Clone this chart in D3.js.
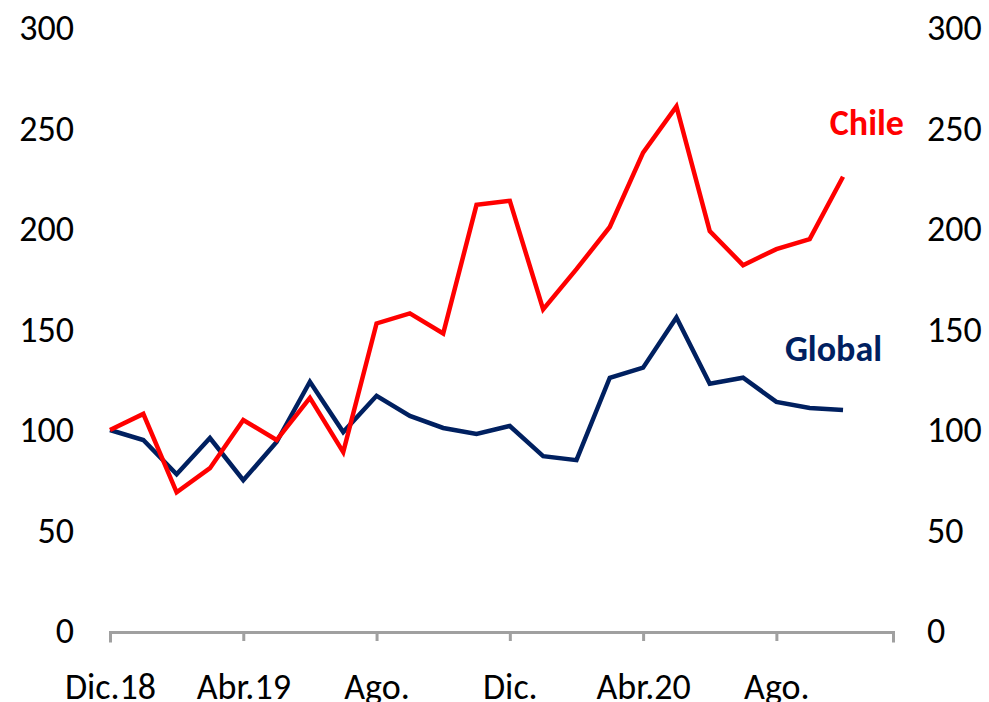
<!DOCTYPE html>
<html lang="es">
<head>
    <meta charset="UTF-8">
    <title>Chile vs Global</title>
    <script src="https://d3js.org/d3.v7.min.js"></script>
    <style>
        body { margin: 0; background: #fff; }
        svg text { font-family: Carlito, Lato, "Open Sans", sans-serif; }
    </style>
</head>
<body>
    <svg id="chart" width="989" height="702"></svg>
<script>
// Monthly index, Dic.18 = 100
const months = d3.range(23); // Dic.18 .. Oct.20
const chile = [100, 108, 69, 81, 105, 95, 116, 89, 153, 158, 148, 212, 214, 160,
    180, 201, 238, 261, 199, 182, 190, 195, 226];
const global = [100, 95, 78, 96, 75, 94, 124, 99, 117, 107, 101, 98, 102, 87,
    85, 126, 131, 156, 123, 126, 114, 111, 110];
const xTickValues = [0, 4, 8, 12, 16, 20];
const xTickLabels = ['Dic.18', 'Abr.19', 'Ago.', 'Dic.', 'Abr.20', 'Ago.'];
const yTicks = [0, 50, 100, 150, 200, 250, 300];

const svg = d3.select('#chart');

const x = d3.scaleLinear().domain([0, 23.5]).range([110, 893]);
const y = d3.scaleLinear().domain([0, 300]).range([631, 28]);

// x axis
const xAxis = svg.append('g')
    .attr('transform', 'translate(0,632)')
    .call(d3.axisBottom(x)
        .tickValues(xTickValues)
        .tickFormat((d, i) => xTickLabels[i])
        .tickSizeOuter(0)
        .tickSize(9));
xAxis.select('.domain')
    .attr('stroke', '#a0a0a0')
    .attr('stroke-width', 3)
    .attr('stroke-linecap', 'square');
xAxis.selectAll('.tick line')
    .attr('stroke', '#a0a0a0')
    .attr('stroke-width', 3);
xAxis.selectAll('.tick text')
    .attr('y', 67)
    .attr('dy', 0)
    .attr('fill', '#000')
    .style('font-size', '36px');

// left y axis
const yLeft = svg.append('g')
    .attr('transform', 'translate(74,0)')
    .call(d3.axisLeft(y).tickValues(yTicks).tickSize(0).tickPadding(0));
yLeft.select('.domain').remove();
yLeft.selectAll('.tick text')
    .attr('dy', '0.32em')
    .attr('fill', '#000')
    .style('font-size', '36px');

// right y axis
const yRight = svg.append('g')
    .attr('transform', 'translate(927,0)')
    .call(d3.axisRight(y).tickValues(yTicks).tickSize(0).tickPadding(0));
yRight.select('.domain').remove();
yRight.selectAll('.tick text')
    .attr('dy', '0.32em')
    .attr('fill', '#000')
    .style('font-size', '36px');

// lines
const line = d3.line()
    .x((d, i) => x(months[i]))
    .y(d => y(d));

svg.append('path')
    .datum(global)
    .attr('d', line)
    .attr('fill', 'none')
    .attr('stroke', '#002060')
    .attr('stroke-width', 4.5)
    .attr('stroke-linejoin', 'miter');

svg.append('path')
    .datum(chile)
    .attr('d', line)
    .attr('fill', 'none')
    .attr('stroke', '#ff0000')
    .attr('stroke-width', 4.5)
    .attr('stroke-linejoin', 'miter');

// series labels
svg.append('text')
    .attr('x', 904)
    .attr('y', 135)
    .attr('text-anchor', 'end')
    .attr('fill', '#ff0000')
    .style('font-size', '36px')
    .style('font-weight', 'bold')
    .text('Chile');

svg.append('text')
    .attr('x', 882)
    .attr('y', 361)
    .attr('text-anchor', 'end')
    .attr('fill', '#002060')
    .style('font-size', '36px')
    .style('font-weight', 'bold')
    .text('Global');
</script>
</body>
</html>
